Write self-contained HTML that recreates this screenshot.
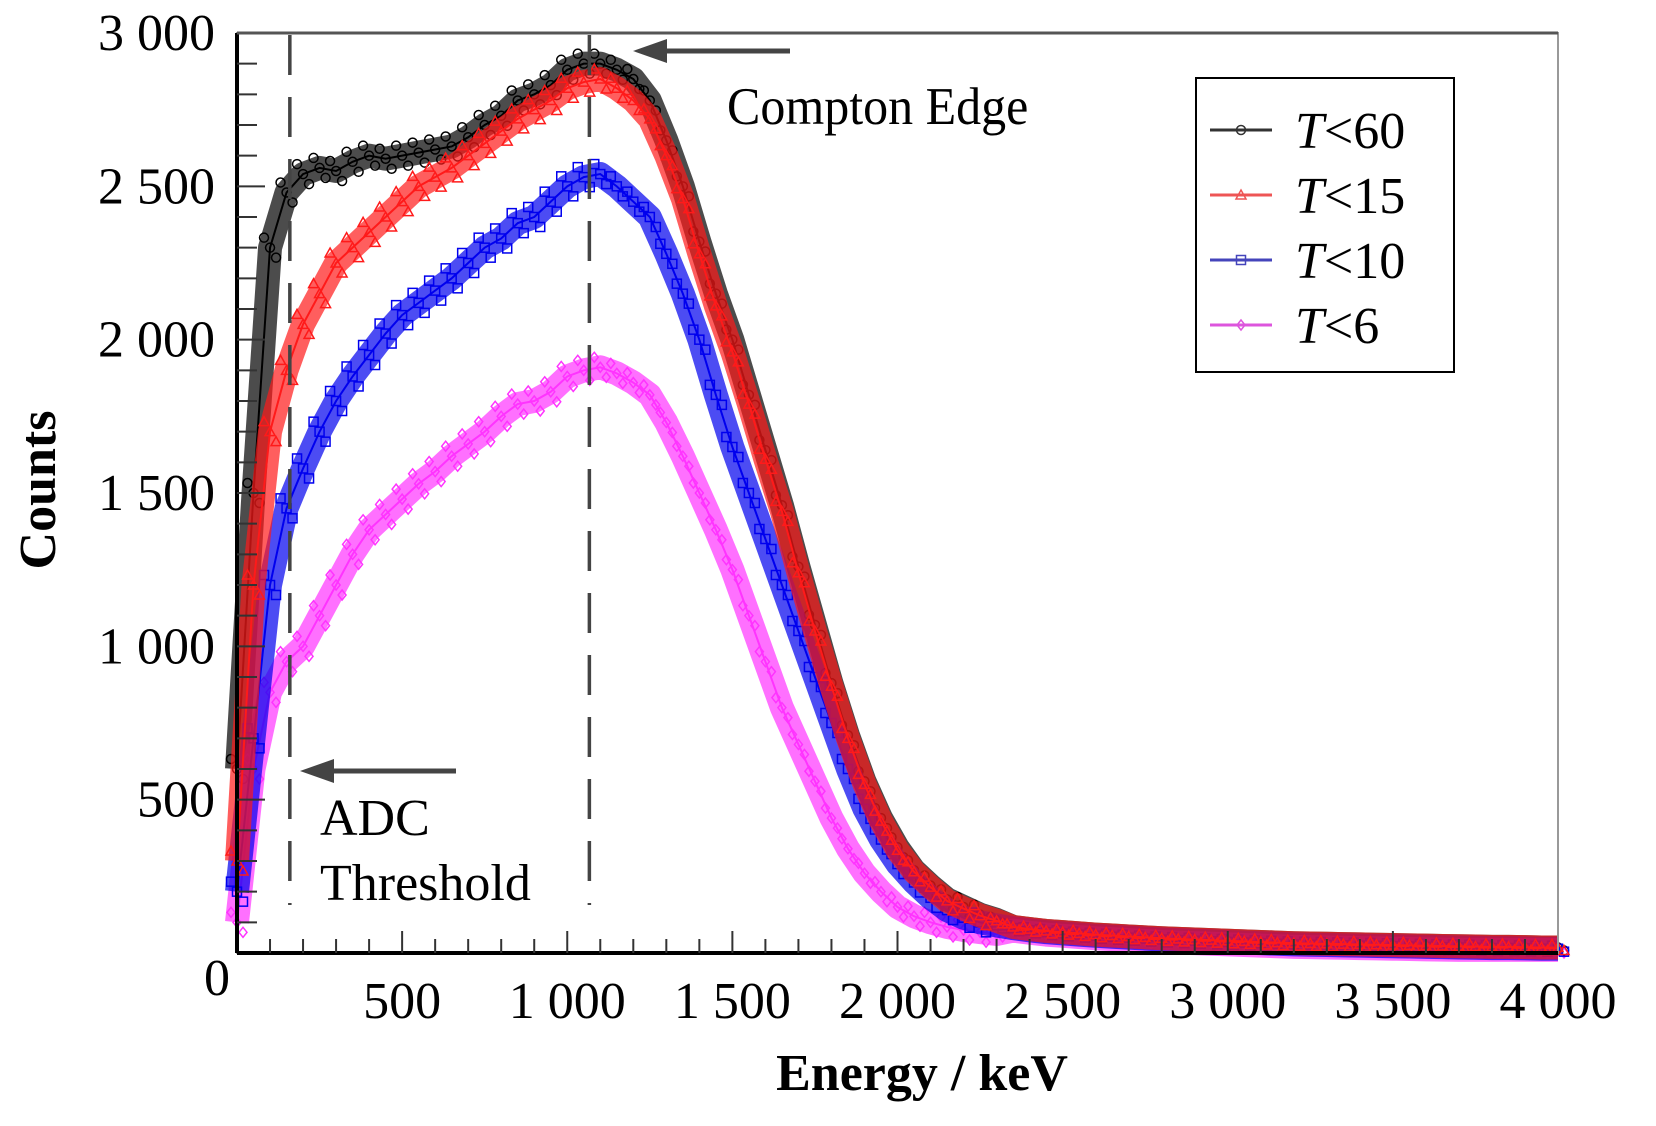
<!DOCTYPE html>
<html><head><meta charset="utf-8"><style>
html,body{margin:0;padding:0;background:#fff;}
svg{display:block;font-family:"Liberation Serif","Times New Roman",serif;}
</style></head><body>
<svg id="chart" width="1656" height="1126" viewBox="0 0 1656 1126" xmlns="http://www.w3.org/2000/svg">
<g id="series"></g>
<g id="axes"></g>
<g fill="#000">
  <text x="727" y="118" font-size="50" transform="translate(727,0) scale(1,1.05) translate(-727,0)">Compton Edge</text>
  <text x="320" y="835" font-size="52">ADC</text>
  <text x="320" y="900" font-size="52">Threshold</text>
</g>
<g>
  <rect x="1196" y="78" width="258" height="294" fill="#fff" stroke="#000" stroke-width="2"/>
  <g id="legend-entries"></g>
</g>
<text transform="translate(55,490) rotate(-90)" text-anchor="middle" font-size="52" font-weight="bold">Counts</text>
<text x="922" y="1090" text-anchor="middle" font-size="52" font-weight="bold">Energy / keV</text>
</svg>
<script>
const energies = [];
for (let e = 0; e <= 4000; e += 50) energies.push(e);
const tail = [95,85,78,72,68,64,60,57,54,51,48,46,44,42,40,38,36,34,32,31,30,29,28,27,26,25,24,23,22,21,20,20,19,18,18];
const t60 = [600,1500,2300,2480,2540,2560,2550,2580,2600,2590,2600,2610,2620,2630,2660,2700,2730,2780,2800,2830,2880,2900,2900,2880,2850,2780,2650,2500,2320,2150,2000,1820,1640,1460,1260,1070,880,710,560,440,345,270,220,175,150,125,108].concat(tail.slice(1));
const t15 = [300,1200,1700,1900,2050,2150,2250,2300,2350,2400,2450,2500,2530,2560,2600,2640,2680,2720,2750,2780,2820,2840,2850,2820,2780,2720,2600,2460,2280,2110,1960,1790,1610,1440,1240,1050,870,700,550,430,335,265,215,170,145,122,105].concat(tail.slice(1));
const t10 = [200,700,1200,1450,1580,1700,1800,1880,1950,2020,2080,2120,2160,2200,2250,2300,2330,2380,2400,2450,2500,2530,2540,2500,2450,2400,2280,2150,2000,1820,1650,1500,1350,1200,1050,900,750,600,470,370,290,230,180,140,115,100,90].concat(tail.slice(1).map(v=>v-4));
const t6 = [100,600,850,950,1000,1100,1200,1300,1380,1430,1480,1530,1570,1620,1660,1700,1750,1790,1800,1830,1880,1900,1910,1890,1860,1820,1730,1620,1500,1380,1250,1100,950,800,680,560,440,340,260,200,150,120,100,85,75,68,62].concat(tail.slice(1).map(v=>Math.max(10,v-12)));
const xTickLabels = ["500","1 000","1 500","2 000","2 500","3 000","3 500","4 000"];
const xTickValues = [500,1000,1500,2000,2500,3000,3500,4000];
const yTickLabels = ["0","500","1 000","1 500","2 000","2 500","3 000"];
const yTickValues = [0,500,1000,1500,2000,2500,3000];
const legendLabels = ["60","15","10","6"];

const L=237,R=1558,T=33,B=953;
const X = e => L + e/4000*(R-L);
const Y = v => B - v/3000*(B-T);
const NS="http://www.w3.org/2000/svg";
function mk(tag, attrs, parent){const el=document.createElementNS(NS,tag);for(const k in attrs)el.setAttribute(k,attrs[k]);parent.appendChild(el);return el;}

const axes=document.getElementById('axes');
let fr=mk('rect',{x:L,y:T,width:R-L,height:B-T,fill:'none',stroke:'#999','stroke-width':2},axes);


let la=mk('line',{x1:L,y1:T,x2:L,y2:B,stroke:'#000','stroke-width':4},axes);


let ba=mk('line',{x1:L,y1:B,x2:R,y2:B,stroke:'#000','stroke-width':4},axes);


let tp=mk('line',{x1:L,y1:T,x2:R,y2:T,stroke:'#555','stroke-width':3},axes);


for(let e=100;e<4000;e+=100){
  const major=e%500===0;
  let t=mk('line',{x1:X(e),y1:B,x2:X(e),y2:B-(major?22:14),stroke:'#333','stroke-width':2},axes);
  
  
}
for(let v=100;v<3000;v+=100){
  const major=v%500===0;
  let t=mk('line',{x1:L,y1:Y(v),x2:L+(major?28:20),y2:Y(v),stroke:'#333','stroke-width':2},axes);
  
  
}
xTickValues.forEach((v,i)=>{
  let t=mk('text',{x:X(v),y:1018,'text-anchor':'middle','font-size':52},axes);
  t.textContent=xTickLabels[i];
  
  
});
yTickValues.forEach((v,i)=>{
  const yy = v===0 ? 995 : Y(v)+17;
  let t=mk('text',{x:v===0?230:215,y:yy,'text-anchor':'end','font-size':52},axes);
  t.textContent=yTickLabels[i];
  
  
});
[160,1067].forEach(e=>{
  let d=mk('line',{x1:X(e),y1:T+2,x2:X(e),y2:905,stroke:'#444','stroke-width':3.5,'stroke-dasharray':'40 22'},axes);
  
  
});
function arrow(x1,x2,y,name){
  let g=mk('g',{},axes);
  
  
  mk('line',{x1:x1,y1:y,x2:x2+20,y2:y,stroke:'#444','stroke-width':5},g);
  mk('polygon',{points:`${x2},${y} ${x2+34},${y-12} ${x2+34},${y+12}`,fill:'#444'},g);
}
arrow(790,633,51,'compton-edge-arrow');
arrow(456,300,771,'adc-threshold-arrow');

const sLayer=document.getElementById('series');
const defs=[
 {data:t60,color:'#000',marker:'circle',name:'series-t60'},
 {data:t6,color:'#ff33ff',marker:'diamond',name:'series-t6'},
 {data:t10,color:'#0000ee',marker:'square',name:'series-t10'},
 {data:t15,color:'#ff1a1a',marker:'triangle',name:'series-t15'},
];
function marker(type,x,y,color,parent){
  let m;
  if(type==='circle') m=mk('circle',{cx:x,cy:y,r:4.5,fill:'none',stroke:color,'stroke-width':1.5},parent);
  else if(type==='square') m=mk('rect',{x:x-4.5,y:y-4.5,width:9,height:9,fill:'none',stroke:color,'stroke-width':1.5},parent);
  else if(type==='triangle') m=mk('polygon',{points:`${x},${y-5} ${x+5},${y+4} ${x-5},${y+4}`,fill:'none',stroke:color,'stroke-width':1.5},parent);
  else m=mk('polygon',{points:`${x},${y-5} ${x+4},${y} ${x},${y+5} ${x-4},${y}`,fill:'none',stroke:color,'stroke-width':1.5},parent);
  return m;
}
defs.forEach(s=>{
  let g=mk('g',{},sLayer);
  
  
  const pts=s.data.map((v,i)=>`${X(energies[i])},${Y(v)}`).join(' ');
  let band=mk('polyline',{points:pts,fill:'none',stroke:s.color,'stroke-width':24,'stroke-linejoin':'round','stroke-opacity':0.7},g);
  
  
  let ln=mk('polyline',{points:pts,fill:'none',stroke:s.color,'stroke-width':2},g);
  
  
  s.data.forEach((v,i)=>{
    const k=(i<46)?1:0.3;
    [-10,0,10].forEach((off,j)=>{
      const m=marker(s.marker,X(energies[i])+(j-1)*6,Y(v)+off*k,s.color,g);
      
      
    });
  });
});

const le=document.getElementById('legend-entries');
const lcol=['#333','#e55','#44b','#d5d'];
const lmk=['circle','triangle','square','diamond'];
[130,195,260,325].forEach((y,i)=>{
  let g=mk('g',{},le);
  
  
  mk('line',{x1:1210,y1:y,x2:1272,y2:y,stroke:lcol[i],'stroke-width':3},g);
  marker(lmk[i],1241,y,lcol[i],g);
  let t=mk('text',{x:1295,y:y+18,'font-size':52},g);
  const it=mk('tspan',{'font-style':'italic'},t); it.textContent='T';
  const r=mk('tspan',{},t); r.textContent='<'+legendLabels[i];
});
</script>
</body></html>
